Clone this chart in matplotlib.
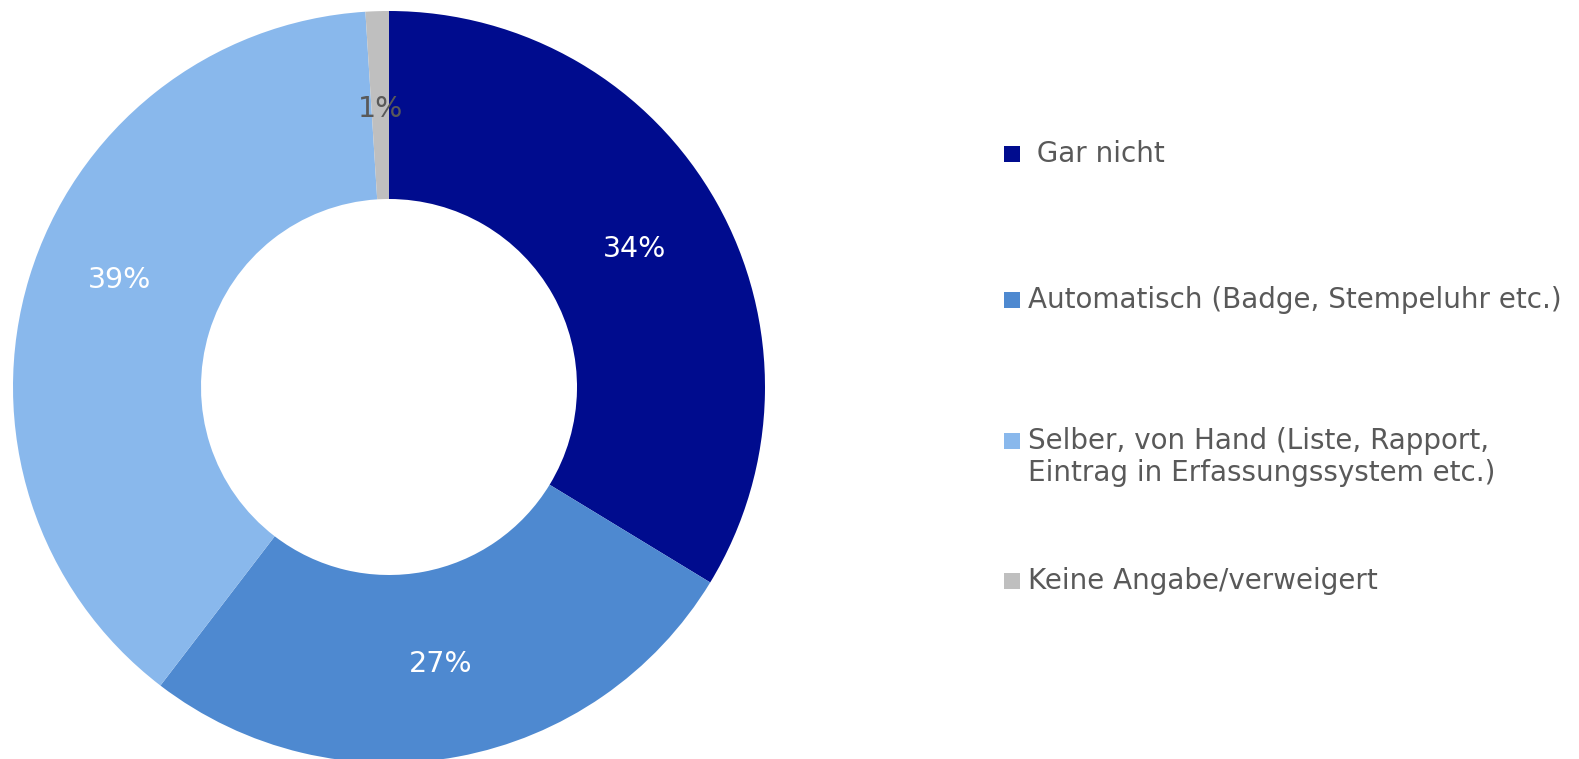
import numpy as np
import matplotlib.pyplot as plt
from matplotlib.patches import Rectangle

# Daten (Anteile in %)
categories = [" Gar nicht",
              "Automatisch (Badge, Stempeluhr etc.)",
              "Selber, von Hand (Liste, Rapport,\nEintrag in Erfassungssystem etc.)",
              "Keine Angabe/verweigert"]
shares = [33.7, 26.7, 38.6, 1.0]
colors = ["#000C8E", "#4E89D0", "#89B8EC", "#BFBFBF"]
label_colors = ["white", "white", "white", "#595959"]

text_gray = "#595959"
plt.rcParams['font.family'] = ['DejaVu Sans']

W, H = 1579, 759
fig = plt.figure(figsize=(W / 100, H / 100), dpi=100)

# Ring: Mittelpunkt ca. (389, 387) px, Radius ca. 376 px
cx, cy, R = 389, 387, 376
ax = fig.add_axes([(cx - R) / W, (H - cy - R) / H, 2 * R / W, 2 * R / H])
wedges, texts, autotexts = ax.pie(
    shares, colors=colors, startangle=90, counterclock=False,
    autopct='%.0f%%', pctdistance=0.75,
    wedgeprops=dict(width=0.5, edgecolor='none'),
    textprops=dict(fontsize=20.5))
for t, c in zip(autotexts, label_colors):
    t.set_color(c)
# Excel setzt die 39%-Beschriftung etwas höher
x3, y3 = autotexts[2].get_position()
autotexts[2].set_position((x3, y3 + 0.066))
x4, y4 = autotexts[3].get_position()
autotexts[3].set_position((x4, y4 - 0.01))
ax.set_xlim(-1, 1)
ax.set_ylim(-1, 1)
ax.set_aspect('equal')
ax.axis('off')

# Legende rechts (manuell, wie im Original)
leg_y = [154, 300, 441, 581]
line_h = 32
box = 16
for lab, col, y in zip(categories, colors, leg_y):
    fig.patches.append(Rectangle((1004 / W, (H - y - box / 2) / H), box / W, box / H,
                                 transform=fig.transFigure, facecolor=col,
                                 edgecolor='none'))
    for i, line in enumerate(lab.split('\n')):
        fig.text(1028 / W, (H - y - i * line_h) / H, line, fontsize=20,
                 color=text_gray, va='center', ha='left')

fig.savefig("out.png", dpi=100)
